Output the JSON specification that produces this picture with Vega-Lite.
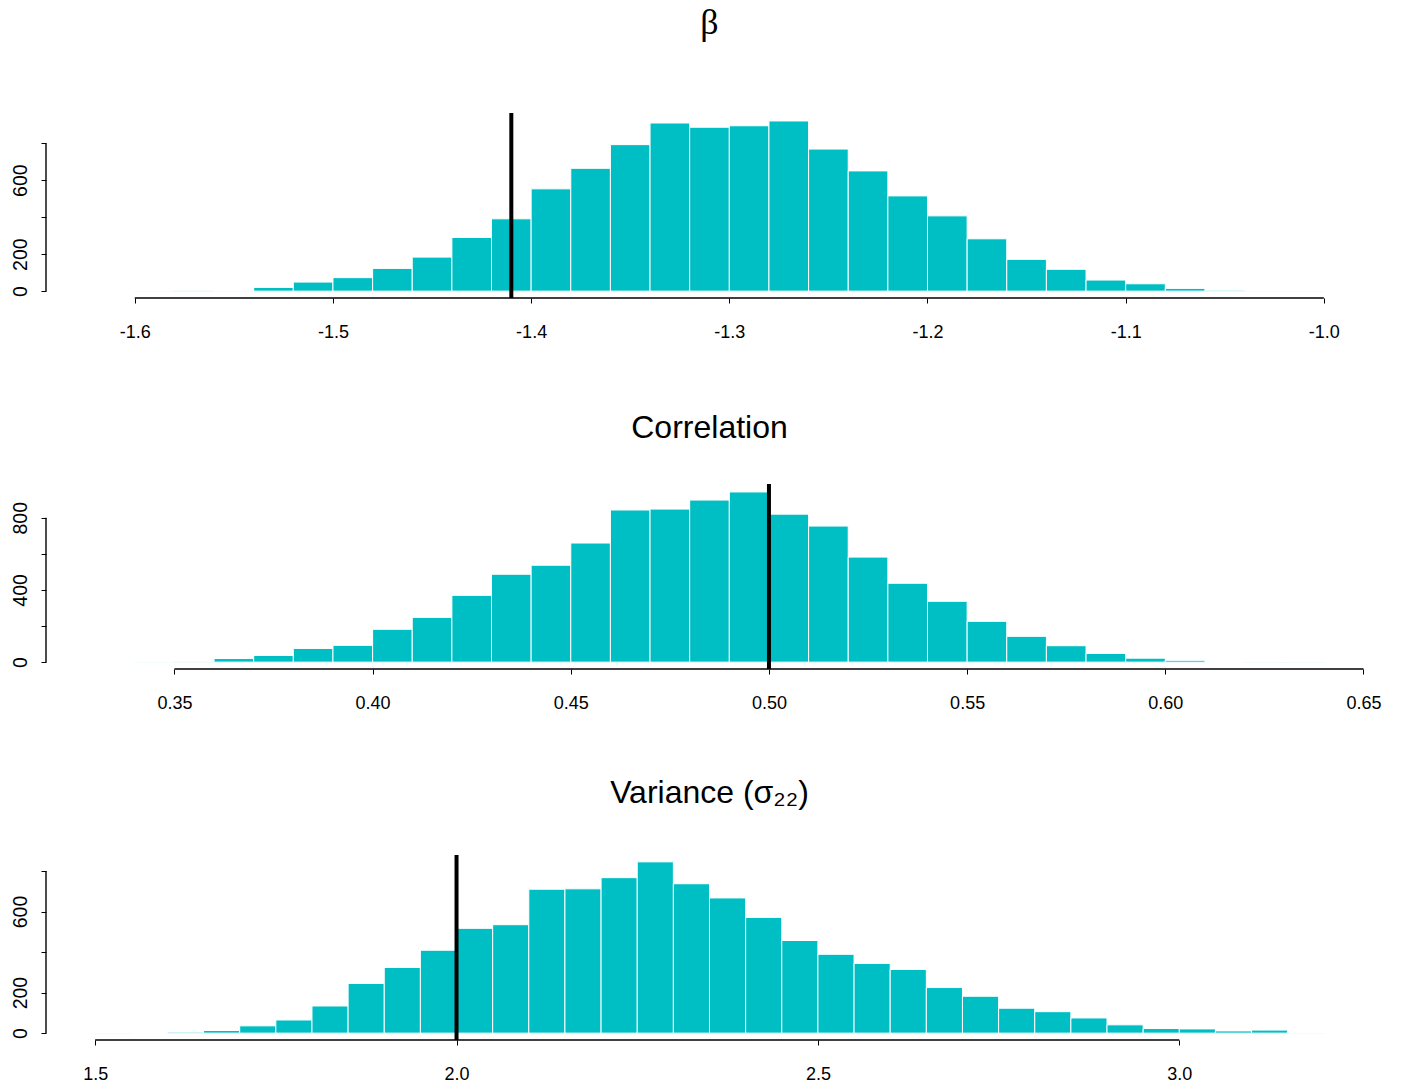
{
  "$schema": "https://vega.github.io/schema/vega-lite/v6.json",
  "padding": {"left": 9, "top": 5, "right": 5, "bottom": 5},
  "background": "white",
  "bounds": "flush",
  "spacing": 186,
  "config": {
    "view": {"stroke": null},
    "axis": {
      "labelFont": "Liberation Sans", "labelFontSize": 18, "labelColor": "black",
      "tickColor": "black", "tickSize": 5, "tickWidth": 1, "domain": false, "grid": false,
      "labelOverlap": false, "labelFlush": false
    },
    "axisX": {"labelPadding": 20},
    "axisY": {"labelAngle": 270, "labelAlign": "center", "labelBaseline": "bottom", "labelPadding": 11, "labelFontSize": 19.5},
    "title": {"font": "Liberation Sans", "fontSize": 32, "fontWeight": "normal", "color": "black", "anchor": "middle", "frame": "group", "baseline": "alphabetic"}
  },
  "datasets": {
    "beta": [
      {"b": -1.62, "e": -1.60, "n": 0}, {"b": -1.60, "e": -1.58, "n": 1}, {"b": -1.58, "e": -1.56, "n": 4},
      {"b": -1.56, "e": -1.54, "n": 1}, {"b": -1.54, "e": -1.52, "n": 20}, {"b": -1.52, "e": -1.50, "n": 49},
      {"b": -1.50, "e": -1.48, "n": 73}, {"b": -1.48, "e": -1.46, "n": 123}, {"b": -1.46, "e": -1.44, "n": 184},
      {"b": -1.44, "e": -1.42, "n": 290}, {"b": -1.42, "e": -1.40, "n": 391}, {"b": -1.40, "e": -1.38, "n": 553},
      {"b": -1.38, "e": -1.36, "n": 664}, {"b": -1.36, "e": -1.34, "n": 792}, {"b": -1.34, "e": -1.32, "n": 909},
      {"b": -1.32, "e": -1.30, "n": 886}, {"b": -1.30, "e": -1.28, "n": 894}, {"b": -1.28, "e": -1.26, "n": 920},
      {"b": -1.26, "e": -1.24, "n": 768}, {"b": -1.24, "e": -1.22, "n": 650}, {"b": -1.22, "e": -1.20, "n": 515},
      {"b": -1.20, "e": -1.18, "n": 407}, {"b": -1.18, "e": -1.16, "n": 283}, {"b": -1.16, "e": -1.14, "n": 172},
      {"b": -1.14, "e": -1.12, "n": 118}, {"b": -1.12, "e": -1.10, "n": 60}, {"b": -1.10, "e": -1.08, "n": 40},
      {"b": -1.08, "e": -1.06, "n": 15}, {"b": -1.06, "e": -1.04, "n": 5}, {"b": -1.04, "e": -1.02, "n": 1},
      {"b": -1.02, "e": -1.00, "n": 1}
    ],
    "corr": [
      {"b": 0.33, "e": 0.34, "n": 0}, {"b": 0.34, "e": 0.35, "n": 1}, {"b": 0.35, "e": 0.36, "n": 2},
      {"b": 0.36, "e": 0.37, "n": 20}, {"b": 0.37, "e": 0.38, "n": 37}, {"b": 0.38, "e": 0.39, "n": 76},
      {"b": 0.39, "e": 0.40, "n": 93}, {"b": 0.40, "e": 0.41, "n": 182}, {"b": 0.41, "e": 0.42, "n": 248},
      {"b": 0.42, "e": 0.43, "n": 370}, {"b": 0.43, "e": 0.44, "n": 487}, {"b": 0.44, "e": 0.45, "n": 537},
      {"b": 0.45, "e": 0.46, "n": 660}, {"b": 0.46, "e": 0.47, "n": 843}, {"b": 0.47, "e": 0.48, "n": 848},
      {"b": 0.48, "e": 0.49, "n": 898}, {"b": 0.49, "e": 0.50, "n": 943}, {"b": 0.50, "e": 0.51, "n": 820},
      {"b": 0.51, "e": 0.52, "n": 754}, {"b": 0.52, "e": 0.53, "n": 582}, {"b": 0.53, "e": 0.54, "n": 437},
      {"b": 0.54, "e": 0.55, "n": 337}, {"b": 0.55, "e": 0.56, "n": 226}, {"b": 0.56, "e": 0.57, "n": 143},
      {"b": 0.57, "e": 0.58, "n": 91}, {"b": 0.58, "e": 0.59, "n": 48}, {"b": 0.59, "e": 0.60, "n": 22},
      {"b": 0.60, "e": 0.61, "n": 10}, {"b": 0.61, "e": 0.62, "n": 0}, {"b": 0.62, "e": 0.63, "n": 1},
      {"b": 0.63, "e": 0.64, "n": 1}
    ],
    "vari": [
      {"b": 1.50, "e": 1.55, "n": 1}, {"b": 1.55, "e": 1.60, "n": 0}, {"b": 1.60, "e": 1.65, "n": 5},
      {"b": 1.65, "e": 1.70, "n": 13}, {"b": 1.70, "e": 1.75, "n": 36}, {"b": 1.75, "e": 1.80, "n": 65},
      {"b": 1.80, "e": 1.85, "n": 134}, {"b": 1.85, "e": 1.90, "n": 245}, {"b": 1.90, "e": 1.95, "n": 324},
      {"b": 1.95, "e": 2.00, "n": 409}, {"b": 2.00, "e": 2.05, "n": 517}, {"b": 2.05, "e": 2.10, "n": 535},
      {"b": 2.10, "e": 2.15, "n": 710}, {"b": 2.15, "e": 2.20, "n": 712}, {"b": 2.20, "e": 2.25, "n": 767},
      {"b": 2.25, "e": 2.30, "n": 845}, {"b": 2.30, "e": 2.35, "n": 737}, {"b": 2.35, "e": 2.40, "n": 667},
      {"b": 2.40, "e": 2.45, "n": 571}, {"b": 2.45, "e": 2.50, "n": 457}, {"b": 2.50, "e": 2.55, "n": 389},
      {"b": 2.55, "e": 2.60, "n": 344}, {"b": 2.60, "e": 2.65, "n": 314}, {"b": 2.65, "e": 2.70, "n": 225},
      {"b": 2.70, "e": 2.75, "n": 182}, {"b": 2.75, "e": 2.80, "n": 123}, {"b": 2.80, "e": 2.85, "n": 106},
      {"b": 2.85, "e": 2.90, "n": 75}, {"b": 2.90, "e": 2.95, "n": 41}, {"b": 2.95, "e": 3.00, "n": 23},
      {"b": 3.00, "e": 3.05, "n": 21}, {"b": 3.05, "e": 3.10, "n": 11}, {"b": 3.10, "e": 3.15, "n": 15},
      {"b": 3.15, "e": 3.20, "n": 1}
    ]
  },
  "vconcat": [
    {
      "width": 1327, "height": 185,
      "title": {"text": "β", "font": "Liberation Serif", "fontSize": 36, "offset": 69},
      "layer": [
        {
          "data": {"name": "beta"},
          "mark": {"type": "bar", "color": "#00BFC4", "stroke": "white", "strokeWidth": 1},
          "encoding": {
            "x": {"field": "b", "type": "quantitative", "title": null, "scale": {"domain": [-1.6448, -0.9752], "nice": false, "zero": false},
                  "axis": {"title": null, "values": [-1.6, -1.5, -1.4, -1.3, -1.2, -1.1, -1.0], "labelExpr": "(datum.value < 0 ? '-' : '') + format(abs(datum.value), '.1f')"}},
            "x2": {"field": "e"},
            "y": {"field": "n", "type": "quantitative", "title": null, "scale": {"domain": [-37, 963], "nice": false, "zero": false},
                  "axis": {"title": null, "values": [0, 200, 400, 600, 800], "labelExpr": "datum.value == 400 || datum.value == 800 ? '' : datum.label"}},
            "y2": {"datum": 0}
          }
        },
        {
          "data": {"values": [{"truth": -1.41}]},
          "mark": {"type": "rule", "color": "black", "strokeWidth": 4},
          "encoding": {
            "x": {"field": "truth", "type": "quantitative", "title": null},
            "y": {"datum": -37, "type": "quantitative"},
            "y2": {"datum": 963}
          }
        },
        {
          "data": {"values": [{}]},
          "mark": {"type": "rule", "color": "black", "strokeWidth": 1.4},
          "encoding": {
            "x": {"datum": -1.6, "type": "quantitative"},
            "x2": {"datum": -1.0},
            "y": {"datum": -37, "type": "quantitative"}
          }
        },
        {
          "data": {"values": [{}]},
          "mark": {"type": "rule", "color": "black", "strokeWidth": 1.4},
          "encoding": {
            "x": {"datum": -1.6448, "type": "quantitative"},
            "y": {"datum": 0, "type": "quantitative"},
            "y2": {"datum": 800}
          }
        }
      ]
    },
    {
      "width": 1327, "height": 185,
      "title": {"text": "Correlation", "offset": 37},
      "layer": [
        {
          "data": {"name": "corr"},
          "mark": {"type": "bar", "color": "#00BFC4", "stroke": "white", "strokeWidth": 1},
          "encoding": {
            "x": {"field": "b", "type": "quantitative", "title": null, "scale": {"domain": [0.3176, 0.6524], "nice": false, "zero": false},
                  "axis": {"title": null, "values": [0.35, 0.40, 0.45, 0.50, 0.55, 0.60, 0.65], "labelExpr": "format(datum.value, '.2f')"}},
            "x2": {"field": "e"},
            "y": {"field": "n", "type": "quantitative", "title": null, "scale": {"domain": [-38, 987], "nice": false, "zero": false},
                  "axis": {"title": null, "values": [0, 200, 400, 600, 800], "labelExpr": "datum.value == 200 || datum.value == 600 ? '' : datum.label"}},
            "y2": {"datum": 0}
          }
        },
        {
          "data": {"values": [{"truth": 0.50}]},
          "mark": {"type": "rule", "color": "black", "strokeWidth": 4},
          "encoding": {
            "x": {"field": "truth", "type": "quantitative", "title": null},
            "y": {"datum": -38, "type": "quantitative"},
            "y2": {"datum": 987}
          }
        },
        {
          "data": {"values": [{}]},
          "mark": {"type": "rule", "color": "black", "strokeWidth": 1.4},
          "encoding": {
            "x": {"datum": 0.35, "type": "quantitative"},
            "x2": {"datum": 0.65},
            "y": {"datum": -38, "type": "quantitative"}
          }
        },
        {
          "data": {"values": [{}]},
          "mark": {"type": "rule", "color": "black", "strokeWidth": 1.4},
          "encoding": {
            "x": {"datum": 0.3176, "type": "quantitative"},
            "y": {"datum": 0, "type": "quantitative"},
            "y2": {"datum": 800}
          }
        }
      ]
    },
    {
      "width": 1327, "height": 185,
      "title": {"text": "Variance (σ₂₂)", "offset": 43},
      "layer": [
        {
          "data": {"name": "vari"},
          "mark": {"type": "bar", "color": "#00BFC4", "stroke": "white", "strokeWidth": 1},
          "encoding": {
            "x": {"field": "b", "type": "quantitative", "title": null, "scale": {"domain": [1.432, 3.268], "nice": false, "zero": false},
                  "axis": {"title": null, "values": [1.5, 2.0, 2.5, 3.0], "labelExpr": "format(datum.value, '.1f')"}},
            "x2": {"field": "e"},
            "y": {"field": "n", "type": "quantitative", "title": null, "scale": {"domain": [-33.8, 878.8], "nice": false, "zero": false},
                  "axis": {"title": null, "values": [0, 200, 400, 600, 800], "labelExpr": "datum.value == 400 || datum.value == 800 ? '' : datum.label"}},
            "y2": {"datum": 0}
          }
        },
        {
          "data": {"values": [{"truth": 2.0}]},
          "mark": {"type": "rule", "color": "black", "strokeWidth": 4},
          "encoding": {
            "x": {"field": "truth", "type": "quantitative", "title": null},
            "y": {"datum": -33.8, "type": "quantitative"},
            "y2": {"datum": 878.8}
          }
        },
        {
          "data": {"values": [{}]},
          "mark": {"type": "rule", "color": "black", "strokeWidth": 1.4},
          "encoding": {
            "x": {"datum": 1.5, "type": "quantitative"},
            "x2": {"datum": 3.0},
            "y": {"datum": -33.8, "type": "quantitative"}
          }
        },
        {
          "data": {"values": [{}]},
          "mark": {"type": "rule", "color": "black", "strokeWidth": 1.4},
          "encoding": {
            "x": {"datum": 1.432, "type": "quantitative"},
            "y": {"datum": 0, "type": "quantitative"},
            "y2": {"datum": 800}
          }
        }
      ]
    }
  ]
}
